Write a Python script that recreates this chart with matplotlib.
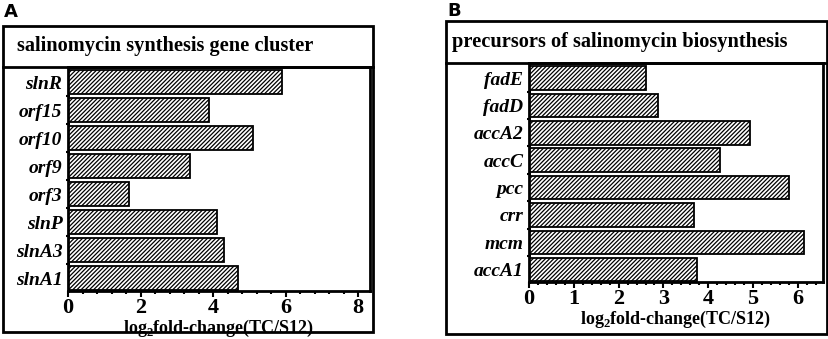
import matplotlib
matplotlib.use("Agg")
import matplotlib.pyplot as plt
from matplotlib.patches import Rectangle
from matplotlib.lines import Line2D
from matplotlib.ticker import MultipleLocator, FixedLocator

plt.rcParams['font.family'] = 'Liberation Serif'
plt.rcParams['mathtext.fontset'] = 'custom'
plt.rcParams['mathtext.rm'] = 'Liberation Serif:bold'
plt.rcParams['mathtext.bf'] = 'Liberation Serif:bold'
plt.rcParams['hatch.linewidth'] = 0.9

# panel A data (top to bottom)
genes_a = ['slnR', 'orf15', 'orf10', 'orf9', 'orf3', 'slnP', 'slnA3', 'slnA1']
fc_a = [5.9, 3.89, 5.1, 3.37, 1.69, 4.1, 4.29, 4.7]
title_a = 'salinomycin synthesis gene cluster'

# panel B data (top to bottom)
genes_b = ['fadE', 'fadD', 'accA2', 'accC', 'pcc', 'crr', 'mcm', 'accA1']
fc_b = [2.61, 2.88, 4.93, 4.26, 5.8, 3.68, 6.14, 3.75]
title_b = 'precursors of salinomycin biosynthesis'

xlabel = r'log$_{\mathbf{2}}$fold-change(TC/S12)'

W, H = 829, 339
fig = plt.figure(figsize=(W / 100, H / 100), dpi=100)


def px(x0, y0, x1, y1):
    """pixel box -> figure fraction [left, bottom, width, height]"""
    return [x0 / W, 1 - y1 / H, (x1 - x0) / W, (y1 - y0) / H]


def panel(letter, lx, ly, outer, axbox, tx, genes, vals, title, xmax, major, minor):
    # outer frame and title band line
    ox0, oy0, ox1, oy1 = outer
    fig.patches.append(Rectangle((ox0 / W, 1 - oy1 / H), (ox1 - ox0) / W, (oy1 - oy0) / H,
                                 transform=fig.transFigure, fill=False, lw=2.0, ec='black'))
    fig.lines.append(Line2D([ox0 / W, ox1 / W], [1 - axbox[1] / H] * 2,
                            transform=fig.transFigure, lw=2.0, color='black'))
    fig.text(lx / W, 1 - ly / H, letter, family='DejaVu Sans', weight='bold',
             fontsize=13, ha='left', va='center')
    fig.text(tx / W, 1 - (oy0 + axbox[1]) / 2 / H, title, weight='bold',
             fontsize=14.7, ha='left', va='center')

    ax = fig.add_axes(px(*axbox))
    y = list(range(len(genes)))[::-1]
    ax.barh(y, vals, height=0.86, color='white', edgecolor='black', lw=1.3,
            hatch='////////')
    ax.set_xlim(0, xmax)
    ax.set_ylim(-0.45, len(genes) - 0.45)
    ax.set_yticks(y)
    ax.set_yticklabels(genes, style='italic', weight='bold', fontsize=14)
    ax.tick_params(axis='y', length=0, pad=4)
    ax.yaxis.set_minor_locator(FixedLocator([i + 0.5 for i in range(len(genes) - 1)]))
    ax.tick_params(axis='y', which='minor', length=3, width=1.5, direction='inout')
    ax.xaxis.set_major_locator(MultipleLocator(major))
    ax.xaxis.set_minor_locator(MultipleLocator(minor))
    ax.tick_params(axis='x', which='major', length=4, width=1.5, direction='out',
                   labelsize=16, pad=1)
    ax.tick_params(axis='x', which='minor', length=2.5, width=1.5, direction='out')
    for lab in ax.get_xticklabels():
        lab.set_fontweight('bold')
    ax.set_xlabel(xlabel, fontsize=13, weight='bold', labelpad=0)
    for s in ax.spines.values():
        s.set_linewidth(2.0)
    return ax


panel('A', 4, 12, (3, 26, 373, 332), (68, 67, 370, 291), 17,
      genes_a, fc_a, title_a, 8.33, 2, 0.4)
panel('B', 447, 11, (446, 21, 827, 334), (529, 63, 823, 282), 452,
      genes_b, fc_b, title_b, 6.56, 1, 0.2)

fig.savefig('out.png', dpi=100)
